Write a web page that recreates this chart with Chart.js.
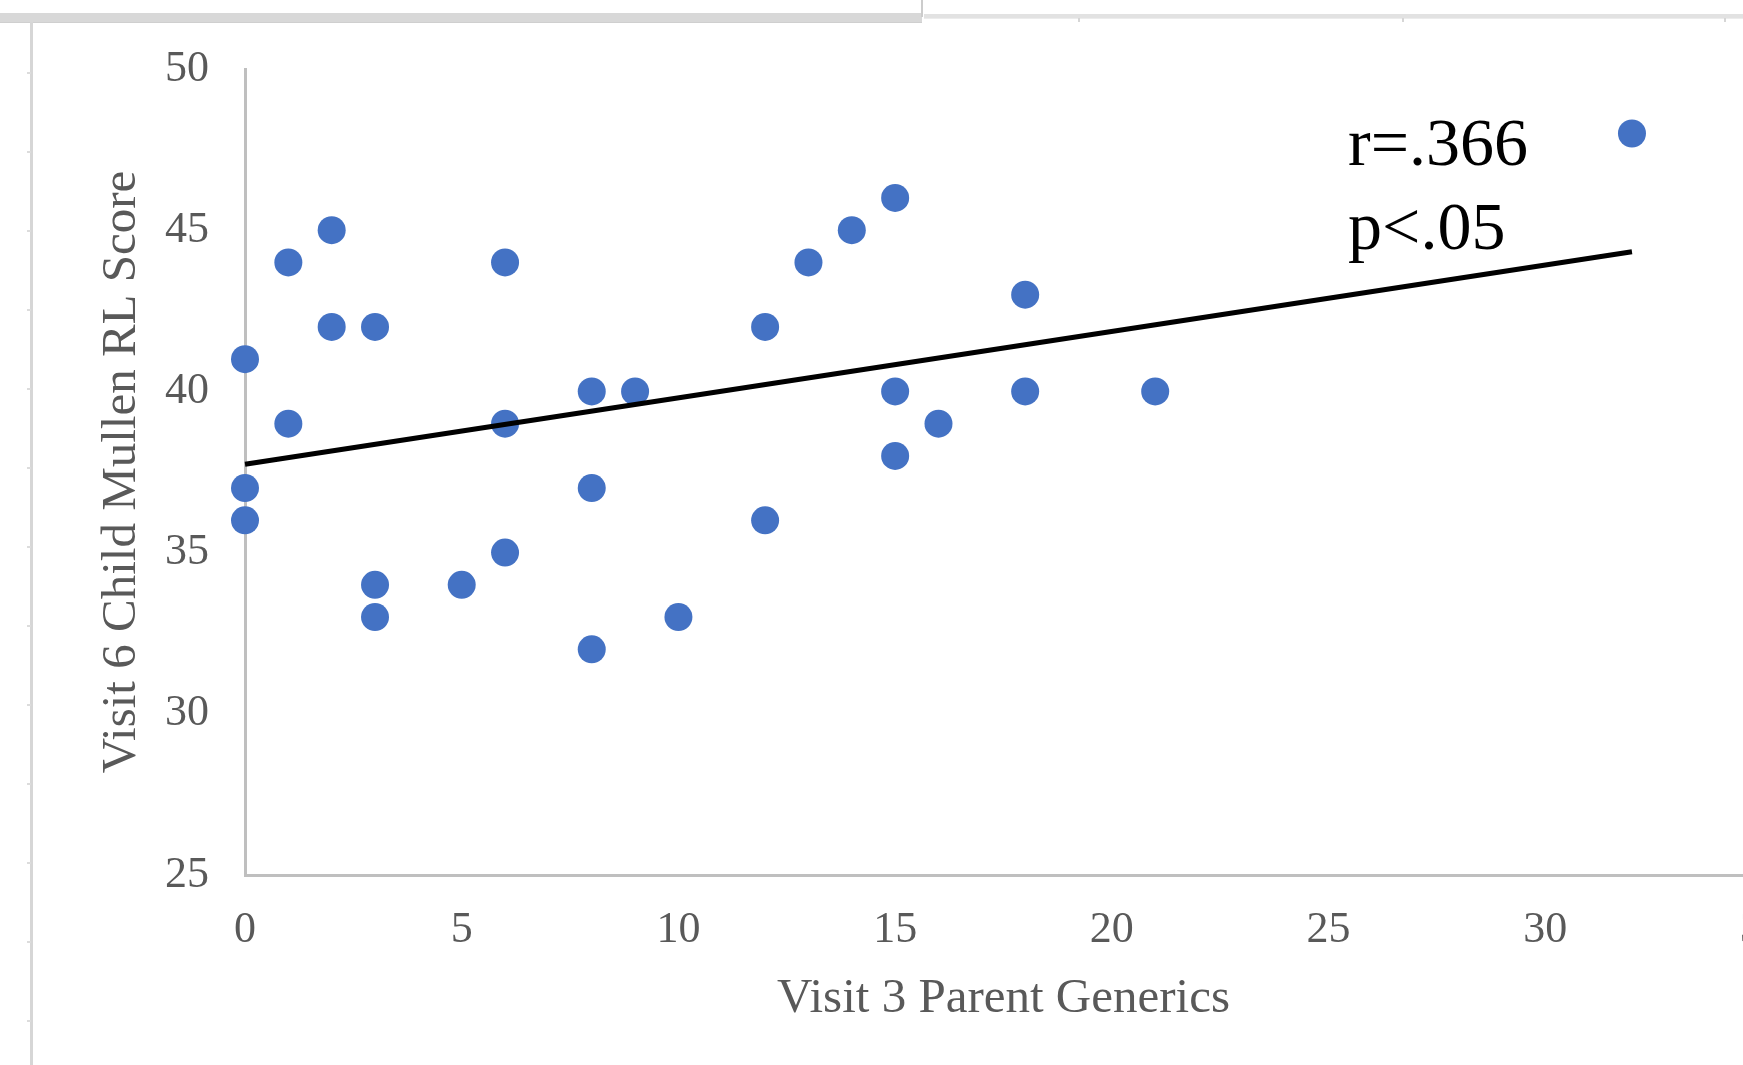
<!DOCTYPE html>
<html>
<head>
<meta charset="utf-8">
<script src="https://cdn.jsdelivr.net/npm/chart.js@4.4.0/dist/chart.umd.min.js"></script>
<style>
  html, body { margin: 0; padding: 0; background: #fff; overflow: hidden; }
  body { width: 1743px; height: 1065px; position: relative; }
  #scatterChart { position: absolute; left: 0; top: 0; }
  .frame { position: absolute; }
</style>
</head>
<body>
<canvas id="scatterChart" width="1800" height="1065"></canvas>

<!-- bits of the spreadsheet frame around the chart -->
<div class="frame" style="left:0;top:13px;width:922px;height:9px;background:#d8d8d8;border-bottom:1px solid #cfcfcf;"></div>
<div class="frame" style="left:924px;top:14px;width:819px;height:4px;background:#e2e2e2;border-bottom:1px solid #ececec;"></div>
<div class="frame" style="left:921px;top:0;width:2px;height:17px;background:#cccccc;"></div>
<div class="frame" style="left:30px;top:22px;width:3px;height:1043px;background:#d6d6d6;"></div>
<div id="notches"></div>

<script>
// Visit 3 parent generics (x) vs visit 6 child Mullen RL score (y)
const parentGenerics = [0, 0, 0, 1, 1, 2, 2, 3, 3, 3, 5, 6, 6, 6, 8, 8, 8, 9, 10, 12, 12, 13, 14, 15, 15, 15, 16, 18, 18, 21, 32];
const mullenScores   = [41, 37, 36, 44, 39, 45, 42, 42, 34, 33, 34, 44, 39, 35, 40, 37, 32, 40, 33, 42, 36, 44, 45, 46, 40, 38, 39, 43, 40, 40, 48];

const xTicks = [0, 5, 10, 15, 20, 25, 30, 35];
const yTicks = [25, 30, 35, 40, 45, 50];
const statLines = ['r=.366', 'p<.05'];

// small notches along the frame edges
var notchBox = document.getElementById('notches');
for (var ny = 72; ny < 1065; ny += 79) {
    var d = document.createElement('div');
    d.className = 'frame';
    d.style.cssText = 'left:27px;top:' + ny + 'px;width:4px;height:2px;background:#dcdcdc;';
    notchBox.appendChild(d);
}
[1078, 1402, 1724].forEach(function (nx) {
    var d = document.createElement('div');
    d.className = 'frame';
    d.style.cssText = 'left:' + nx + 'px;top:18px;width:2px;height:4px;background:#d6d6d6;';
    notchBox.appendChild(d);
});

// least squares trendline, like Excel's linear trendline
var n = parentGenerics.length;
var mx = parentGenerics.reduce((a, b) => a + b, 0) / n;
var my = mullenScores.reduce((a, b) => a + b, 0) / n;
var sxy = 0, sxx = 0;
for (var i = 0; i < n; i++) {
    sxy += (parentGenerics[i] - mx) * (mullenScores[i] - my);
    sxx += (parentGenerics[i] - mx) * (parentGenerics[i] - mx);
}
var slope = sxy / sxx;
var intercept = my - slope * mx;
var xMin = Math.min.apply(null, parentGenerics);
var xMax = Math.max.apply(null, parentGenerics);

var points = parentGenerics.map((x, i) => ({ x: x, y: mullenScores[i] }));
var trend = [xMin, xMax].map(x => ({ x: x, y: intercept + slope * x }));

const serif = '"Liberation Serif", "Times New Roman", serif';

const statsText = {
    id: 'statsText',
    afterDatasetsDraw(chart) {
        const c = chart.ctx;
        const xs = chart.scales.x;
        const left = xs.getPixelForValue(25.45);
        c.save();
        c.fillStyle = '#000000';
        c.font = '68px ' + serif;
        c.textAlign = 'left';
        c.textBaseline = 'alphabetic';
        c.fillText(statLines[0], left, 165);
        c.fillText(statLines[1], left, 249);
        c.restore();
    }
};

var scatter = document.getElementById('scatterChart').getContext('2d');
new Chart(scatter, {
    type: 'scatter',
    data: {
        datasets: [
            {
                type: 'line',
                label: 'Trend',
                data: trend,
                borderColor: '#000000',
                borderWidth: 5,
                pointRadius: 0,
                fill: false,
                order: 0,
                clip: false
            },
            {
                label: 'Scores',
                data: points,
                backgroundColor: '#4472C4',
                borderWidth: 0,
                pointRadius: 14,
                order: 1,
                clip: false
            }
        ]
    },
    options: {
        responsive: false,
        animation: false,
        events: [],
        layout: {
            padding: { top: 69, right: 38, bottom: 0, left: 0 }
        },
        scales: {
            x: {
                type: 'linear',
                min: 0,
                max: 35,
                afterBuildTicks: function (s) { s.ticks = xTicks.map(v => ({ value: v })); },
                afterFit: function (s) { s.height = 190; s.paddingLeft = 0; s.paddingRight = 0; },
                grid: { display: false, drawTicks: false },
                border: { display: true, color: '#bfbfbf', width: 3 },
                ticks: {
                    color: '#595959',
                    font: { family: serif, size: 44 },
                    padding: 29,
                    maxRotation: 0
                },
                title: {
                    display: true,
                    text: 'Visit 3 Parent Generics',
                    color: '#595959',
                    font: { family: serif, size: 49 },
                    padding: { top: 0, bottom: 36 }
                }
            },
            y: {
                type: 'linear',
                min: 25,
                max: 50,
                afterBuildTicks: function (s) { s.ticks = yTicks.map(v => ({ value: v })); },
                afterFit: function (s) { s.width = 245; },
                grid: { display: false, drawTicks: false },
                border: { display: true, color: '#bfbfbf', width: 3 },
                ticks: {
                    color: '#595959',
                    font: { family: serif, size: 44 },
                    padding: 36
                },
                title: {
                    display: true,
                    text: 'Visit 6 Child Mullen RL Score',
                    color: '#595959',
                    font: { family: serif, size: 49 },
                    padding: { top: 93, bottom: 0 }
                }
            }
        },
        plugins: {
            legend: { display: false },
            tooltip: { enabled: false }
        }
    },
    plugins: [statsText]
});
</script>
</body>
</html>
